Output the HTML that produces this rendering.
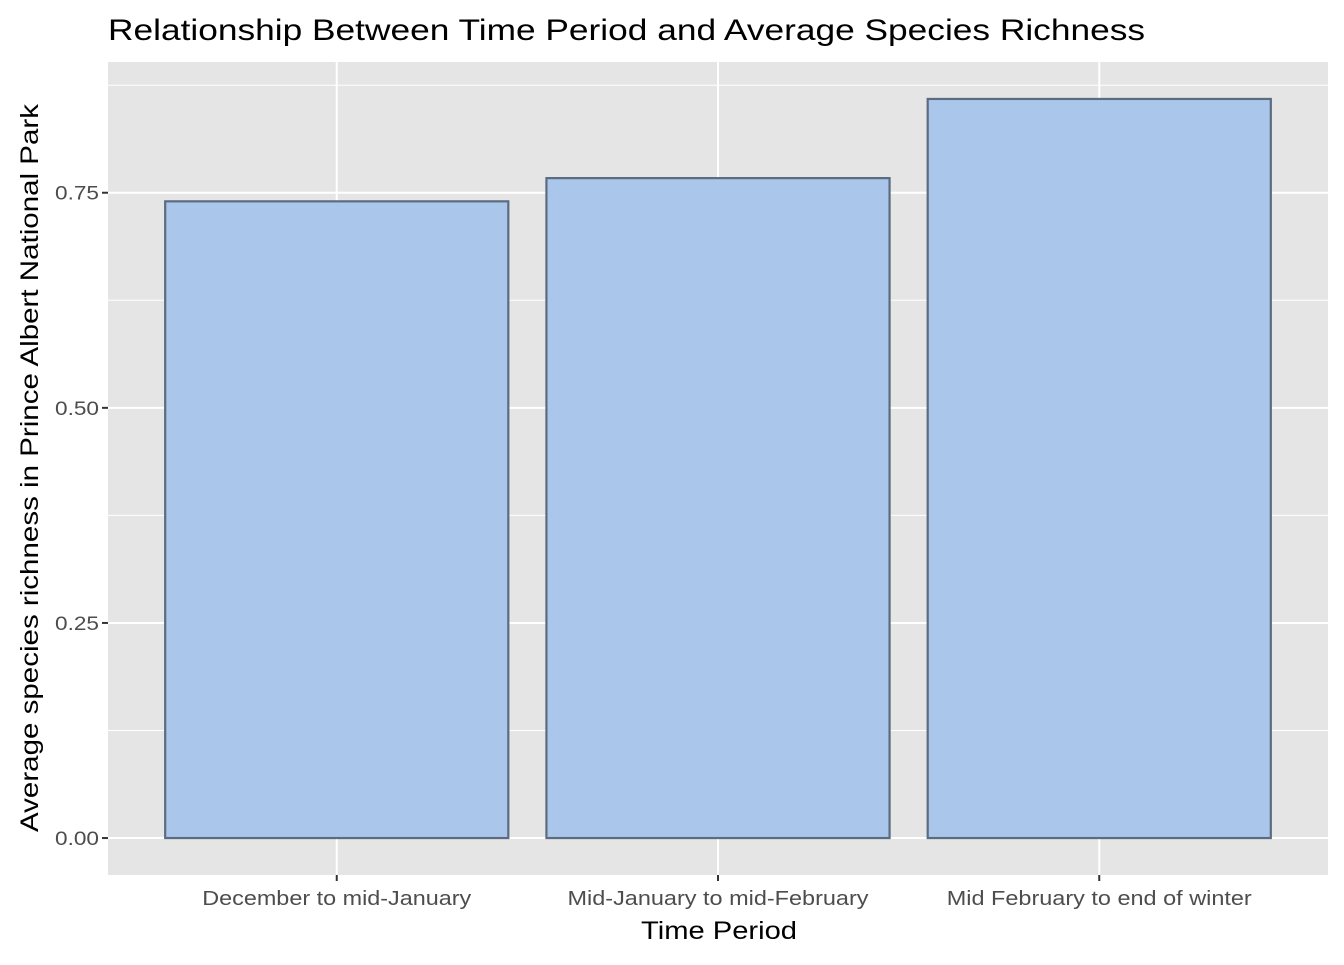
<!DOCTYPE html>
<html><head><meta charset="utf-8"><style>
html,body{margin:0;padding:0;background:#fff;}
svg text{font-family:"Liberation Sans",Arial,sans-serif;}
</style></head><body>
<svg id="chart" width="1344" height="960" xmlns="http://www.w3.org/2000/svg">
<text x="108" y="40" font-size="30" textLength="1037" lengthAdjust="spacingAndGlyphs" fill="#000">Relationship Between Time Period and Average Species Richness</text>
<rect x="108" y="62" width="1220" height="813" fill="#e5e5e5"/>
<g id="grid"></g>
<g id="bars"></g>
<g id="axes"></g>
<text x="719" y="939" font-size="25" text-anchor="middle" textLength="156" lengthAdjust="spacingAndGlyphs" fill="#000">Time Period</text>
<text transform="translate(38,468) rotate(-90)" font-size="25" text-anchor="middle" textLength="728" lengthAdjust="spacingAndGlyphs" fill="#000">Average species richness in Prince Albert National Park</text>
</svg>
<script>
const categories=["December to mid-January","Mid-January to mid-February","Mid February to end of winter"];
const values=[0.74,0.767,0.859];
const yTicks=[0,0.25,0.5,0.75];
const yTickLabels=["0.00","0.25","0.50","0.75"];
const yMinor=[0.125,0.375,0.625,0.875];
const labelWidths=[269,301,305];
const NS="http://www.w3.org/2000/svg";
const L=108,R=1328,T=62,B=875;
const ymax=Math.max(...values)*1.05, ymin=-ymax*0.05/1.05*1.0;
function y(v){return B-(v-ymin)/(ymax-ymin)*(B-T);}
const step=(R-L)/(categories.length+0.2);
function x(i){return L+step*(0.6+i);}
function mk(tag,attrs,parent){const e=document.createElementNS(NS,tag);for(const k in attrs)e.setAttribute(k,attrs[k]);document.getElementById(parent).appendChild(e);return e;}
yMinor.forEach(v=>{if(y(v)<T)return;const l=mk('line',{x1:L,x2:R,y1:y(v),y2:y(v),stroke:'#fff','stroke-width':1},'grid');

});
yTicks.forEach((v,i)=>{const l=mk('line',{x1:L,x2:R,y1:y(v),y2:y(v),stroke:'#fff','stroke-width':2},'grid');


const t=mk('line',{x1:L-6,x2:L,y1:y(v),y2:y(v),stroke:'#333','stroke-width':2},'axes');


const tx=mk('text',{x:L-9,y:y(v)+7,'font-size':19,fill:'#4d4d4d','text-anchor':'end',textLength:44,lengthAdjust:'spacingAndGlyphs'},'axes');tx.textContent=yTickLabels[i];

});
categories.forEach((c,i)=>{const l=mk('line',{x1:x(i),x2:x(i),y1:T,y2:B,stroke:'#fff','stroke-width':2},'grid');


const w=step*0.9;
const b=mk('rect',{x:x(i)-w/2,y:y(values[i]),width:w,height:y(0)-y(values[i]),fill:'#abc6eb',stroke:'#5b6b80','stroke-width':2.2},'bars');


const t=mk('line',{x1:x(i),x2:x(i),y1:B,y2:B+6,stroke:'#333','stroke-width':2},'axes');


const tx=mk('text',{x:x(i),y:B+30,'font-size':20,fill:'#4d4d4d','text-anchor':'middle',textLength:labelWidths[i],lengthAdjust:'spacingAndGlyphs'},'axes');tx.textContent=c;

});
</script>
</body></html>
